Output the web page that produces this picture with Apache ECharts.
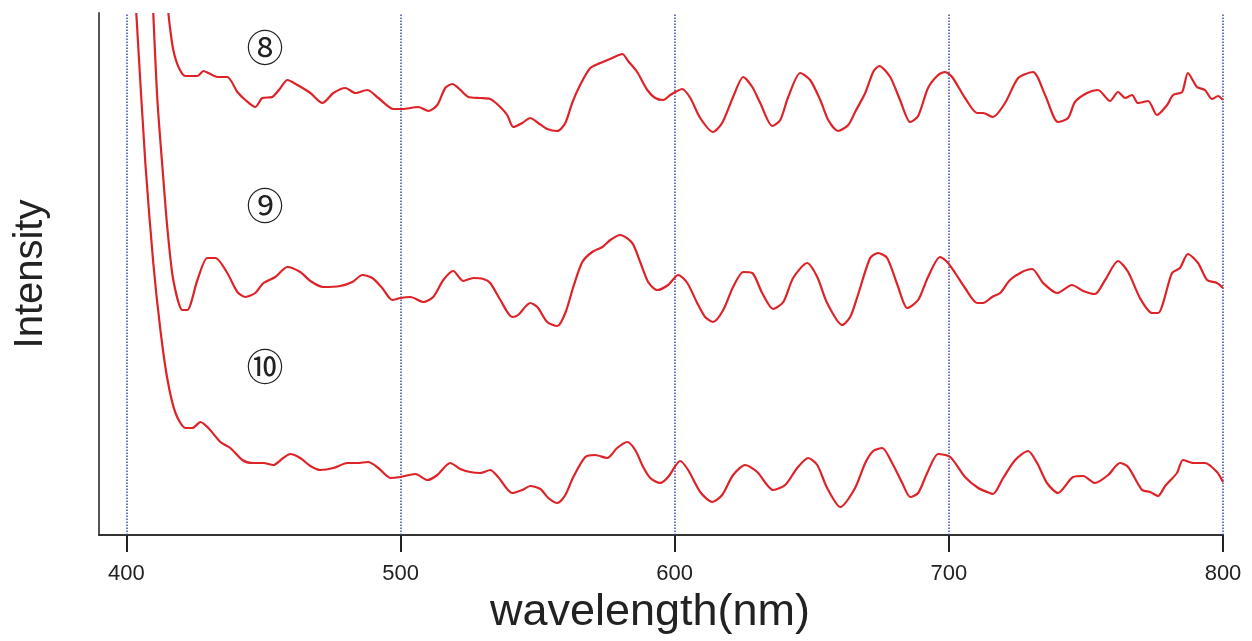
<!DOCTYPE html>
<html>
<head>
<meta charset="utf-8">
<script src="https://cdn.jsdelivr.net/npm/echarts@6/dist/echarts.min.js"></script>
<style>
html,body{margin:0;padding:0;background:#fff;}
#chart{width:1252px;height:641px;}
</style>
</head>
<body>
<div id="chart"></div>
<script>
const tickValues = [400, 500, 600, 700, 800];
const curveLabels = ['⑧', '⑨', '⑩'];

const wl8 = [415.3,416.0,417.1,419.0,421.5,425.9,428.1,429.9,433.2,436.8,440.5,443.4,447.0,449.6,453.2,456.2,458.7,462.4,467.1,471.5,475.5,479.9,483.5,487.9,491.9,497.4,500.6,506.5,510.1,513.4,516.3,518.9,521.1,524.7,529.1,532.7,535.6,538.9,541.1,544.4,547.3,550.2,553.5,557.2,560.1,562.6,565.5,569.2,572.8,577.2,580.9,583.0,586.3,590.0,592.9,595.8,598.4,600.2,602.7,605.7,609.3,614.0,617.3,621.3,625.0,628.3,631.2,635.6,638.5,641.4,645.8,649.4,653.1,656.0,659.6,663.3,665.8,669.5,672.4,674.6,678.6,682.2,685.9,688.8,692.4,696.1,698.6,701.2,705.9,710.3,712.5,716.1,720.5,725.3,730.7,735.1,739.8,743.5,746.0,750.4,754.4,758.8,761.7,764.3,766.8,769.0,772.7,775.9,779.6,781.8,785.1,787.2,790.5,793.4,796.0,798.2,800];
const int8 = [522,505,485,468,459,459,464,462,458,458,443,435,428,437,438,447,455,450,442,432,442,447,442,445,437,426,426,428,424,430,447,451,447,438,437,436,430,420,408,412,417,412,406,404,412,432,450,467,472,477,481,474,463,445,437,435,440,443,446,437,417,403,412,438,458,448,432,409,415,438,462,455,435,415,404,410,423,442,463,469,458,435,413,419,447,460,463,458,437,422,422,418,432,457,463,440,413,417,433,442,445,434,443,437,440,432,434,420,430,440,443,462,448,445,436,439,435];

const wl9 = [409.8,411.3,413.5,415.0,417.1,420.4,422.2,425.9,429.5,432.5,436.8,440.5,443.4,447.0,450.0,454.3,458.7,463.4,467.1,471.8,478.0,482.4,486.1,489.7,493.3,497.0,499.9,503.6,508.3,511.9,515.6,519.2,522.9,526.5,530.2,532.7,536.4,540.7,542.9,547.3,549.9,553.5,557.2,560.1,563.0,566.3,569.9,573.6,576.5,580.1,584.5,587.4,590.3,593.6,597.6,601.3,604.6,608.2,611.1,614.0,617.7,621.3,625.0,628.3,631.9,635.9,639.6,643.2,648.3,652.0,655.6,661.1,664.0,666.6,671.3,674.2,677.5,681.5,684.8,688.8,692.4,696.8,699.4,702.3,705.9,710.3,712.5,715.8,718.7,722.3,726.7,730.4,734.4,739.5,744.9,749.0,753.3,757.0,761.7,765.4,769.7,774.1,776.3,781.4,784.3,787.2,790.9,794.2,797.8,800];
const int9 = [522,435,355,305,255,225,225,255,277,277,262,243,238,242,252,258,268,263,254,248,249,253,260,257,247,235,237,238,233,238,255,264,254,257,256,252,235,218,220,232,228,213,209,222,248,273,283,288,295,300,292,273,253,245,250,260,252,232,218,213,225,248,263,262,242,226,233,257,272,258,232,210,218,238,277,282,277,248,227,235,258,278,273,262,247,232,232,238,242,255,263,266,252,242,250,244,241,255,274,263,237,222,222,262,267,281,272,255,252,247];

const wl10 = [403.6,406.9,409.8,412.4,415.0,417.9,421.5,424.1,427.0,429.9,434.3,437.9,442.3,445.9,450.0,453.6,457.2,459.8,463.4,467.1,470.7,475.5,480.6,484.2,488.2,491.9,496.3,499.9,505.4,509.8,513.4,518.1,521.8,525.4,529.1,532.7,535.6,540.7,544.4,547.3,551.0,553.9,557.2,560.1,563.0,567.4,571.0,575.4,579.0,582.7,585.6,588.5,591.1,594.7,597.6,602.0,604.9,609.3,613.7,617.3,621.3,625.7,630.1,635.9,640.3,644.7,648.7,652.0,655.6,660.4,665.8,669.5,672.4,675.7,679.3,683.0,685.9,688.8,692.1,696.1,700.5,705.9,710.7,714.0,716.1,719.8,724.2,728.9,732.2,735.8,739.8,745.3,749.0,753.3,758.1,762.4,765.4,770.5,773.4,776.3,778.9,783.2,785.4,789.1,793.4,797.8,800];
const int10 = [522,372,272,205,155,122,107,107,113,107,93,87,75,72,72,70,77,81,77,69,65,67,72,72,73,67,57,58,61,55,60,72,66,63,62,65,58,42,45,49,46,37,32,40,58,78,80,77,87,93,85,68,57,52,58,74,65,43,33,40,60,70,63,45,50,67,77,70,47,28,47,72,84,87,72,52,38,42,62,81,78,58,47,43,41,57,75,84,72,52,42,58,59,52,60,72,68,45,43,39,49,62,75,72,72,63,53];

function zip(xs, ys) { return xs.map((x, i) => [x, ys[i]]); }

const chart = echarts.init(document.getElementById('chart'), null, {renderer: 'canvas'});
const FONT = '"Liberation Sans", Arial, Helvetica, sans-serif';
const CIRC_FONT = '"Noto Sans CJK JP", "DejaVu Sans", sans-serif';
const RED = '#dd2328';
const lineStyle = {color: RED, width: 2.2};

function curve(name, xs, ys, extra) {
  return Object.assign({
    name: name,
    type: 'line',
    data: zip(xs, ys),
    showSymbol: false,
    smooth: 0.25,
    lineStyle: lineStyle,
    itemStyle: {color: RED},
    clip: true,
    z: 3
  }, extra || {});
}

function circLabel(text, x, y) {
  return {type: 'text', x: x, y: y, style: {text: text, fontFamily: CIRC_FONT, fontSize: 37, fill: '#222', align: 'center', verticalAlign: 'middle'}};
}

chart.setOption({
  animation: false,
  backgroundColor: '#fff',
  grid: {left: 99, right: 29, top: 13, bottom: 106, containLabel: false},
  xAxis: {
    type: 'value',
    min: 390,
    max: 800,
    name: 'wavelength(nm)',
    nameLocation: 'middle',
    nameGap: 42,
    nameTextStyle: {fontFamily: FONT, fontSize: 45, color: '#222', padding: [0, 22, 0, 0]},
    axisLine: {show: true, onZero: false, lineStyle: {color: '#333', width: 2}},
    axisTick: {show: true, customValues: tickValues, length: 17, lineStyle: {color: '#222', width: 2}},
    axisLabel: {show: true, customValues: tickValues, margin: 28, fontFamily: FONT, fontSize: 22, color: '#222'},
    splitLine: {show: false}
  },
  yAxis: {
    type: 'value',
    min: 0,
    max: 522,
    name: 'Intensity',
    nameLocation: 'middle',
    nameGap: 48,
    nameRotate: 90,
    nameTextStyle: {fontFamily: FONT, fontSize: 40, color: '#222'},
    axisLine: {show: true, lineStyle: {color: '#555', width: 2}},
    axisTick: {show: false},
    axisLabel: {show: false},
    splitLine: {show: false}
  },
  series: [
    curve('8', wl8, int8, {
      markLine: {
        silent: true,
        symbol: ['none', 'none'],
        label: {show: false},
        lineStyle: {color: '#3f4fb8', type: 'dotted', width: 1.5},
        z: 1,
        data: tickValues.map(v => ({xAxis: v}))
      }
    }),
    curve('9', wl9, int9),
    curve('10', wl10, int10)
  ],
  graphic: [
    circLabel(curveLabels[0], 265, 48),
    circLabel(curveLabels[1], 265, 206),
    circLabel(curveLabels[2], 265, 367)
  ]
});
</script>
</body>
</html>
